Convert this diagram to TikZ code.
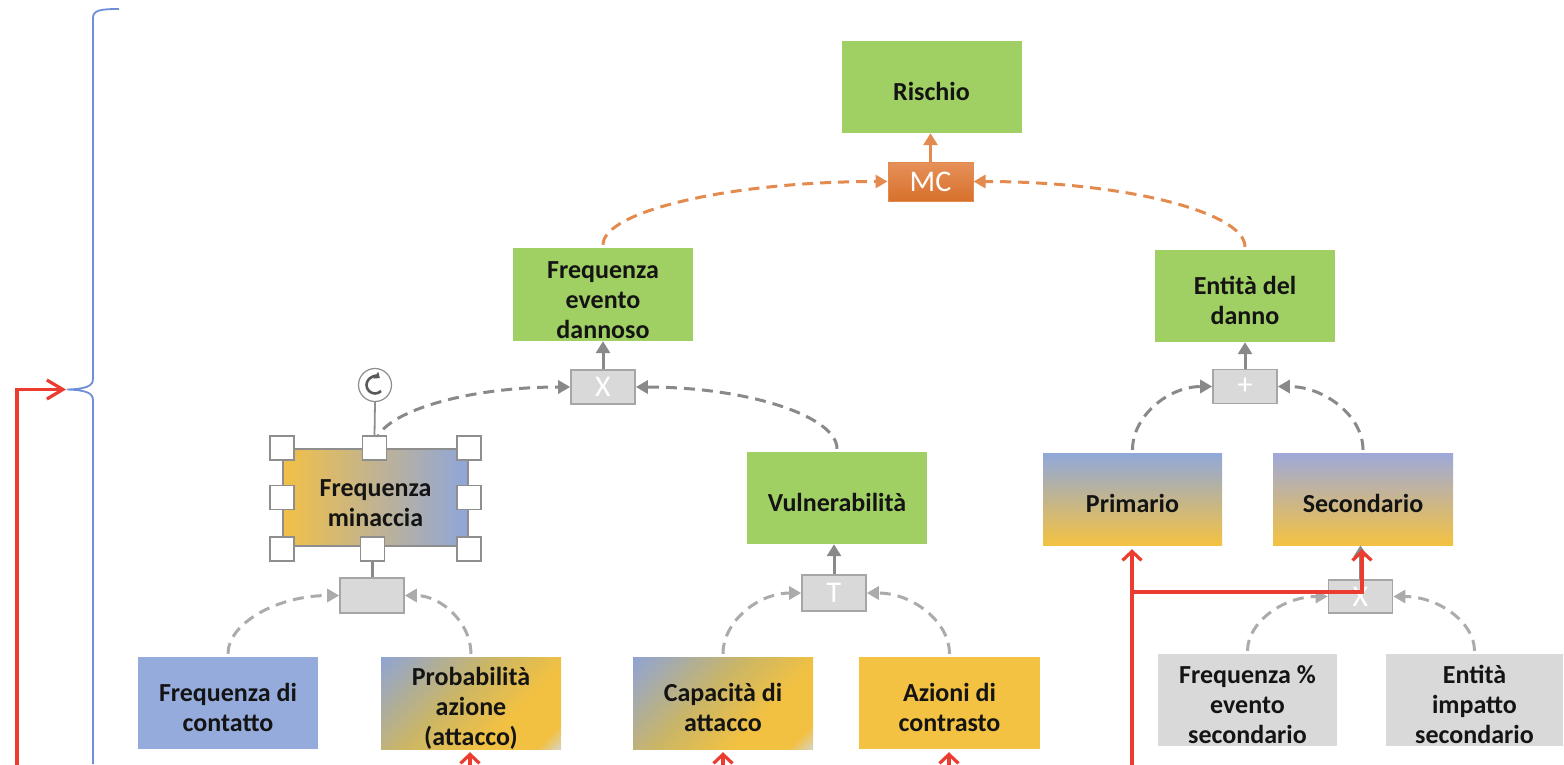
\documentclass[tikz,border=0pt]{standalone}
\usepackage{fontspec}
\setmainfont{Carlito}
\usetikzlibrary{arrows.meta,calc}

% palette
\definecolor{boxgreen}{HTML}{A0CF63}
\definecolor{boxblue}{HTML}{95ABDB}
\definecolor{boxorange}{HTML}{F4C242}
\definecolor{boxgray}{HTML}{D9D9D9}
\definecolor{opedge}{HTML}{A6A6A6}
\definecolor{linkgray}{HTML}{898989}
\definecolor{linklight}{HTML}{ABABAB}
\definecolor{mclight}{HTML}{E6915A}
\definecolor{mcdark}{HTML}{D7702C}
\definecolor{mcline}{HTML}{E38A4E}
\definecolor{redline}{HTML}{EC3B2F}
\definecolor{bracecol}{HTML}{6E8FD8}
\definecolor{handleedge}{HTML}{8E8E8E}
\definecolor{textdark}{HTML}{141414}
\definecolor{fmorange}{HTML}{F2C046}
\definecolor{fmpink}{HTML}{D5B4A8}
\definecolor{fmblue}{HTML}{8FA6DB}
\definecolor{primtop}{HTML}{90A8DA}
\definecolor{primmid}{HTML}{B3AF88}
\definecolor{sectop}{HTML}{9EA9DA}
\definecolor{secmid}{HTML}{D8B6AA}
\definecolor{diagA}{HTML}{90A4D3}
\definecolor{diagB}{HTML}{CBB666}
\definecolor{diagC}{HTML}{F2C142}
\definecolor{diagD}{HTML}{D6D4CC}

% diagonal blend used by the two attack boxes
\pgfdeclarehorizontalshading{diagblend}{100bp}{%
  color(0bp)=(diagA); color(15bp)=(diagA); color(44bp)=(diagB);
  color(64bp)=(diagC); color(79bp)=(diagC); color(86bp)=(diagD);
  color(100bp)=(diagD)}

\newcommand\boxfont{\fontsize{26}{30}\selectfont\bfseries}
\newcommand\opfont{\fontsize{30}{32}\selectfont}
% uniform first-line height so labels sit slightly low in their boxes
\newcommand\topstrut{\rule{0pt}{28pt}}

% quarter-ellipse link: rises from #2, ends horizontally into #3
\newcommand\qarc[3]{%
  \draw[#1] (#2) .. controls ($(#2)!0.552!(#2 |- #3)$)
    and ($(#3)!0.552!(#2 |- #3)$) .. (#3);}

\begin{document}
\begin{tikzpicture}[x=1pt,y=-1pt,
  box/.style={minimum width=180pt, minimum height=92pt, inner sep=0pt,
    align=center, font=\boxfont, text=textdark},
  greenbox/.style={box, fill=boxgreen},
  opbox/.style={draw=opedge, line width=1.6pt, fill=boxgray,
    minimum width=64pt, minimum height=34pt, inner sep=0pt,
    text=white, font=\opfont},
  grayarc/.style={draw=linkgray, line width=3pt, dash pattern=on 11pt off 7pt,
    shorten <=3pt, -{Triangle[length=12pt,width=13pt]}},
  lightarc/.style={grayarc, draw=linklight},
  orangearc/.style={draw=mcline, line width=3pt, dash pattern=on 11pt off 7pt,
    shorten <=3pt, -{Triangle[length=12pt,width=13pt]}},
  uplink/.style={draw=linkgray, line width=3pt, -{Triangle[length=12pt,width=14pt]}},
  handle/.style={draw=handleedge, fill=white, line width=1.2pt,
    minimum size=24pt, inner sep=0pt},
  redarrow/.style={draw=redline, line width=3.2pt,
    -{Straight Barb[length=9pt,width=19pt]}},
]
\useasboundingbox (0,0) rectangle (1564,764);

% ---------- boxes ----------
\node[greenbox] (rischio) at (931.5,87) {\topstrut Rischio};
\node[draw=mcline, line width=1pt, top color=mclight, bottom color=mcdark,
  minimum width=85pt, minimum height=39pt, inner sep=0pt,
  text=white, font=\opfont] (mc) at (930.5,181.5) {MC};

\node[greenbox, minimum height=93pt] (fe) at (603,294.5)
  {\topstrut Frequenza\\evento\\dannoso};
\node[greenbox] (ed) at (1245,296) {\topstrut Entità del\\danno};

\node[opbox] (opx) at (603,387) {X};
\node[opbox] (opplus) at (1245,386.5) {+};

\node[box, minimum width=185pt, minimum height=97pt, draw=handleedge,
  line width=2pt, left color=fmorange, middle color=fmpink, right color=fmblue]
  (fm) at (375.5,497.5) {\topstrut Frequenza\\minaccia};
\node[greenbox] (vul) at (837,498) {\topstrut Vulnerabilità};
\node[box, minimum width=179pt, top color=primtop, middle color=primmid,
  bottom color=boxorange] (prim) at (1132.5,499) {\topstrut Primario};
\node[box, top color=sectop, middle color=secmid, bottom color=boxorange]
  (sec) at (1363,499) {\topstrut Secondario};

\node[opbox, minimum height=35pt] (opfm) at (372,595.5) {};
\node[opbox, minimum height=36pt] (opt) at (834,593) {T};
\node[opbox, minimum height=33pt] (opx2) at (1360.5,596.5) {X};

\node[box, fill=boxblue] (fc) at (228,703) {\topstrut Frequenza di\\contatto};
\node[box, shade, shading=diagblend, shading angle=-45] (pa) at (471,703)
  {\topstrut Probabilità\\azione\\(attacco)};
\node[box, shade, shading=diagblend, shading angle=-45] (ca) at (723,703)
  {\topstrut Capacità di\\attacco};
\node[box, minimum width=181pt, fill=boxorange] (ac) at (949.5,703)
  {\topstrut Azioni di\\contrasto};
\node[box, minimum width=179pt, fill=boxgray] (fs) at (1247.5,700)
  {\topstrut Frequenza \%\\evento\\secondario};
\node[box, minimum width=177pt, fill=boxgray] (ei) at (1474.5,700)
  {\topstrut Entità\\impatto\\secondario};

% ---------- operator outputs ----------
\draw[draw=mcline, line width=3pt, -{Triangle[length=12pt,width=14pt]}]
  (mc.north) -- (mc.north |- rischio.south);
\draw[uplink] (opx.north) -- (opx.north |- fe.south);
\draw[uplink] (opplus.north) -- (opplus.north |- ed.south);
\draw[uplink] (opt.north) -- (opt.north |- vul.south);
\draw[uplink] (opx2.north) -- (opx2.north |- sec.south);
\draw[uplink] (opfm.north) -- (opfm.north |- fm.south);

% ---------- operator inputs ----------
\qarc{orangearc}{fe.north}{mc.west}
\qarc{orangearc}{ed.north}{mc.east}
\qarc{grayarc}{fm.north}{opx.west}
\qarc{grayarc}{vul.north}{opx.east}
\qarc{grayarc}{prim.north}{opplus.west}
\qarc{grayarc}{sec.north}{opplus.east}
\qarc{lightarc}{fc.north}{opfm.west}
\qarc{lightarc}{pa.north}{opfm.east}
\qarc{lightarc}{ca.north}{opt.west}
\qarc{lightarc}{ac.north}{opt.east}
\qarc{lightarc}{fs.north}{opx2.west}
\qarc{lightarc}{ei.north}{opx2.east}

% ---------- selection frame on the threat box ----------
\node[handle] (htl) at (fm.north west) {};
\node[handle] (htm) at ($(fm.north)+(-1,0)$) {};
\node[handle] (htr) at (fm.north east) {};
\node[handle] (hml) at (fm.west) {};
\node[handle] (hmr) at (fm.east) {};
\node[handle] (hbl) at ($(fm.south west)+(0,2)$) {};
\node[handle] (hbm) at ($(fm.south)+(-3,2)$) {};
\node[handle] (hbr) at ($(fm.south east)+(0,2)$) {};
\node[circle, draw=handleedge, fill=white, line width=1.2pt, minimum size=33pt,
  inner sep=0pt] (rot) at (375,385) {};
\draw[handleedge, line width=1.8pt] (rot.south) -- (htm.north);
\draw[color=black!65, line width=2.6pt, -{Triangle[length=5pt,width=8pt]}]
  (rot.center) ++(-45:8.5pt) arc[start angle=-45, end angle=-305, radius=8.5pt];

% ---------- brace ----------
\draw[bracecol, line width=1.8pt]
  (119,9) .. controls (101,9) and (93,10) .. (93,18) -- (93,379)
  .. controls (93,386) and (86,389) .. (67,389.5)
  .. controls (86,390) and (93,393) .. (93,400) -- (93,764);
\coordinate (bracetip) at (66,389.5);

% ---------- red feedback lines ----------
\coordinate (leftfoot) at (17,766);
\draw[redarrow, -{Straight Barb[length=16pt,width=19pt]}] (leftfoot) |- (bracetip);

\coordinate (pafoot) at (470,766);
\coordinate (cafoot) at (723,766);
\coordinate (acfoot) at (949,766);
\draw[redarrow, shorten >=3pt] (pafoot) -- (pafoot |- pa.south);
\draw[redarrow, shorten >=3pt] (cafoot) -- (cafoot |- ca.south);
\draw[redarrow, shorten >=3pt] (acfoot) -- (acfoot |- ac.south);

\coordinate (primfoot) at (1132,766);
\coordinate (branch) at (1132,592);
\draw[redarrow, shorten >=4pt] (primfoot) -- (primfoot |- prim.south);
\draw[redarrow, shorten >=4pt] (branch) -| ($(sec.south)+(-1,0)$);
\end{tikzpicture}
\end{document}
